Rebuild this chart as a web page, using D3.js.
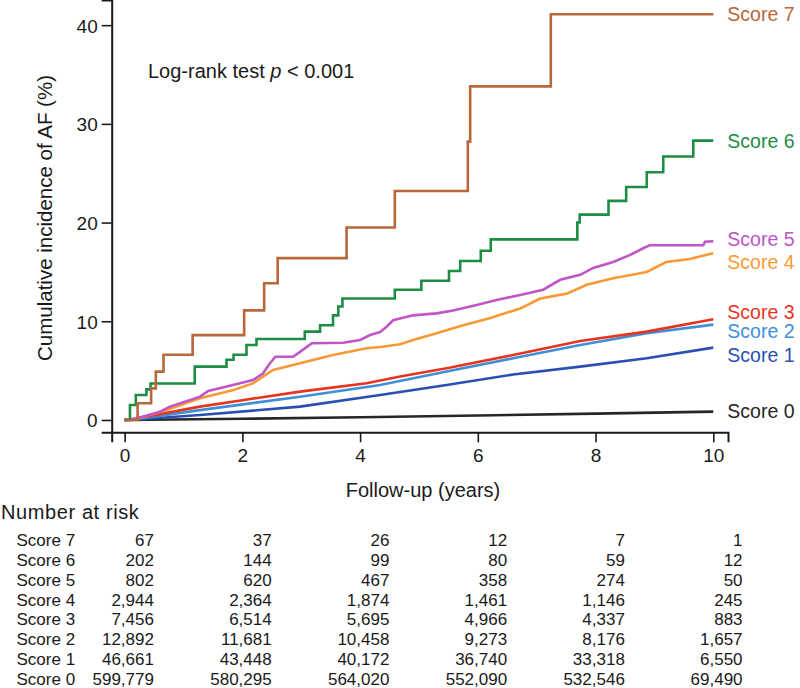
<!DOCTYPE html>
<html>
<head>
<meta charset="utf-8">
<script src="https://cdn.jsdelivr.net/npm/d3@7/dist/d3.min.js"></script>
<style>
  html, body { margin: 0; padding: 0; background: #fff; }
  svg { display: block; font-family: Arial, "Liberation Sans", Helvetica, sans-serif; }
</style>
</head>
<body>
<svg id="chart" width="800" height="688"></svg>
<script>
// ---------------- DATA ----------------
const seriesNames = ["Score 0", "Score 1", "Score 2", "Score 3", "Score 4", "Score 5", "Score 6", "Score 7"];
const seriesColors = ["#262626", "#2a4fb2", "#3d8fd8", "#e8341f", "#f89a34", "#bf55c6", "#1d8d45", "#b7673a"];

// step curves (time in years, cumulative incidence %)
const score7Times  = [0, 0.22, 0.45, 0.53, 0.66, 1.155, 2.03, 2.37, 2.6, 3.77, 4.59, 5.83, 5.87, 7.24, 10];
const score7Values = [0, 1.69, 3.2, 4.9, 6.6, 8.6, 11.1, 13.85, 16.4, 19.5, 23.2, 28.2, 33.8, 41.1, 41.1];

const score6Times  = [0, 0.09, 0.19, 0.37, 0.44, 1.19, 1.73, 1.85, 2.07, 2.24, 3.06, 3.32, 3.54, 3.63, 3.70, 4.59, 5.04, 5.51, 5.70, 6.05, 6.22, 7.69, 7.73, 8.22, 8.52, 8.87, 9.15, 9.66, 10];
const score6Values = [0, 1.52, 2.53, 3.1, 3.7, 5.4, 6.1, 6.6, 7.6, 8.2, 8.95, 9.6, 10.6, 11.5, 12.3, 13.2, 14.1, 15.1, 16.1, 17.15, 18.3, 20.0, 20.8, 22.2, 23.6, 25.1, 26.7, 28.3, 28.3];

// near-continuous curves
const score5Times  = [0, 0.2, 0.6, 0.77, 1.28, 1.42, 1.84, 2.18, 2.35, 2.45, 2.56, 2.86, 2.98, 3.18, 3.71, 4.0, 4.17, 4.34, 4.45, 4.56, 4.9, 5.3, 5.58, 5.98, 6.32, 6.72, 7.11, 7.4, 7.74, 7.96, 8.3, 8.58, 8.81, 8.92, 9.83, 9.86, 10];
const score5Values = [0, 0.15, 0.84, 1.35, 2.36, 2.94, 3.55, 4.05, 4.7, 5.6, 6.4, 6.4, 6.9, 7.77, 7.83, 8.1, 8.6, 8.9, 9.45, 10.1, 10.6, 10.8, 11.1, 11.65, 12.16, 12.66, 13.2, 14.2, 14.7, 15.4, 16.0, 16.7, 17.4, 17.7, 17.7, 18.06, 18.1];

const score4Times  = [0, 0.2, 0.71, 1.28, 1.85, 2.18, 2.52, 2.98, 3.54, 4.11, 4.34, 4.68, 4.9, 5.3, 5.75, 6.2, 6.72, 7.06, 7.51, 7.85, 8.3, 8.87, 9.2, 9.6, 10];
const score4Values = [0, 0.1, 1.0, 2.2, 3.04, 3.7, 5.07, 5.74, 6.59, 7.26, 7.4, 7.67, 8.1, 8.78, 9.6, 10.3, 11.3, 12.3, 12.8, 13.7, 14.36, 15.0, 16.0, 16.3, 16.9];

const score3Times  = [0, 0.15, 1.28, 2.03, 2.98, 4.11, 4.68, 5.47, 6.6, 7.74, 8.87, 10];
const score3Values = [0, 0.1, 1.35, 2.03, 2.87, 3.72, 4.4, 5.24, 6.59, 8.0, 8.95, 10.2];

const score2Times  = [0, 0.15, 1.28, 2.98, 4.34, 5.47, 6.6, 7.74, 8.87, 10];
const score2Values = [0, 0.05, 1.0, 2.36, 3.55, 4.9, 6.25, 7.6, 8.78, 9.66];

const score1Times  = [0, 0.2, 1.28, 2.98, 4.34, 5.47, 6.6, 7.74, 8.87, 10];
const score1Values = [0, 0.05, 0.5, 1.35, 2.53, 3.55, 4.6, 5.4, 6.25, 7.33];

const score0Times  = [0, 2, 4, 6, 8, 10];
const score0Values = [0, 0.12, 0.28, 0.45, 0.64, 0.84];

const xTicks = [0, 2, 4, 6, 8, 10];
const yTicks = [0, 10, 20, 30, 40];

// number at risk, rows from Score 7 down to Score 0, columns at years 0..10
const riskRowLabels = ["Score 7", "Score 6", "Score 5", "Score 4", "Score 3", "Score 2", "Score 1", "Score 0"];
const riskTimes = [0, 2, 4, 6, 8, 10];
const risk7 = ["67", "37", "26", "12", "7", "1"];
const risk6 = ["202", "144", "99", "80", "59", "12"];
const risk5 = ["802", "620", "467", "358", "274", "50"];
const risk4 = ["2,944", "2,364", "1,874", "1,461", "1,146", "245"];
const risk3 = ["7,456", "6,514", "5,695", "4,966", "4,337", "883"];
const risk2 = ["12,892", "11,681", "10,458", "9,273", "8,176", "1,657"];
const risk1 = ["46,661", "43,448", "40,172", "36,740", "33,318", "6,550"];
const risk0 = ["599,779", "580,295", "564,020", "552,090", "532,546", "69,490"];

// ---------------- BUILD ----------------
const seriesTimes  = [score0Times, score1Times, score2Times, score3Times, score4Times, score5Times, score6Times, score7Times];
const seriesValues = [score0Values, score1Values, score2Values, score3Values, score4Values, score5Values, score6Values, score7Values];
const stepSeries = [false, false, false, false, false, false, true, true];
// label vertical nudges (px) to separate labels at the right edge
const labelNudge = [0, 7.4, 7, -7.6, 9, -2, 1, 0];
const riskRows = [risk7, risk6, risk5, risk4, risk3, risk2, risk1, risk0];

const svg = d3.select("#chart");
const ink = "#1a1a1a";

const x = d3.scaleLinear().domain([-0.22, 10.25]).range([111.7, 728]);
const y = d3.scaleLinear().domain([-1.25, 42.55]).range([432.3, 0]);

// axes
const xAxis = d3.axisBottom(x).tickValues(xTicks).tickSizeOuter(0).tickSize(10).tickPadding(6).tickFormat(d3.format("d"));
const yAxis = d3.axisLeft(y).tickValues(yTicks).tickSizeOuter(0).tickSize(10).tickPadding(4).tickFormat(d3.format("d"));

const gx = svg.append("g").attr("transform", "translate(0,432.3)").call(xAxis);
const gy = svg.append("g").attr("transform", "translate(111.7,0)").call(yAxis);
[gx, gy].forEach(g => {
  g.select(".domain").attr("stroke", ink).attr("stroke-width", 2);
  g.selectAll(".tick line").attr("stroke", ink).attr("stroke-width", 1.6);
  g.selectAll(".tick text").attr("fill", ink).attr("font-size", 19).attr("font-family", "Arial, 'Liberation Sans', sans-serif");
});
gy.selectAll(".tick text").attr("dy", "0.36em");

// curves
seriesNames.forEach((name, i) => {
  const pts = seriesTimes[i].map((t, k) => [t, seriesValues[i][k]]);
  const line = d3.line()
    .x(d => x(d[0]))
    .y(d => y(d[1]))
    .curve(stepSeries[i] ? d3.curveStepAfter : d3.curveLinear);
  svg.append("path")
    .datum(pts)
    .attr("fill", "none")
    .attr("stroke", seriesColors[i])
    .attr("stroke-width", 2.6)
    .attr("stroke-linejoin", "miter")
    .attr("d", line);
});

// right labels
seriesNames.forEach((name, i) => {
  const vals = seriesValues[i];
  svg.append("text")
    .attr("x", x(10) + 14)
    .attr("y", y(vals[vals.length - 1]) + labelNudge[i])
    .attr("dy", "0.35em")
    .attr("font-size", 19.5)
    .attr("fill", seriesColors[i])
    .text(name);
});

// log-rank annotation
const lr = svg.append("text").attr("x", 148).attr("y", 78).attr("font-size", 20).attr("fill", ink);
lr.append("tspan").text("Log-rank test ");
lr.append("tspan").attr("font-style", "italic").text("p");
lr.append("tspan").text(" < 0.001");

// axis titles
svg.append("text")
  .attr("transform", "translate(52,218) rotate(-90)")
  .attr("text-anchor", "middle")
  .attr("font-size", 20.5)
  .attr("fill", ink)
  .text("Cumulative incidence of AF (%)");

svg.append("text")
  .attr("x", x(5) + 4)
  .attr("y", 497)
  .attr("text-anchor", "middle")
  .attr("font-size", 20)
  .attr("fill", ink)
  .text("Follow-up (years)");

// number at risk table
svg.append("text")
  .attr("x", 1).attr("y", 519)
  .attr("font-size", 20)
  .attr("letter-spacing", 0.6)
  .attr("fill", ink)
  .text("Number at risk");

riskRowLabels.forEach((lab, r) => {
  const by = 546 + r * 19.86;
  svg.append("text")
    .attr("x", 16.5).attr("y", by)
    .attr("font-size", 17)
    .attr("fill", ink)
    .text(lab);
  riskRows[r].forEach((v, c) => {
    svg.append("text")
      .attr("x", x(riskTimes[c]) + 29.3)
      .attr("y", by)
      .attr("text-anchor", "end")
      .attr("font-size", 17)
      .attr("fill", ink)
      .text(v);
  });
});
</script>
</body>
</html>
